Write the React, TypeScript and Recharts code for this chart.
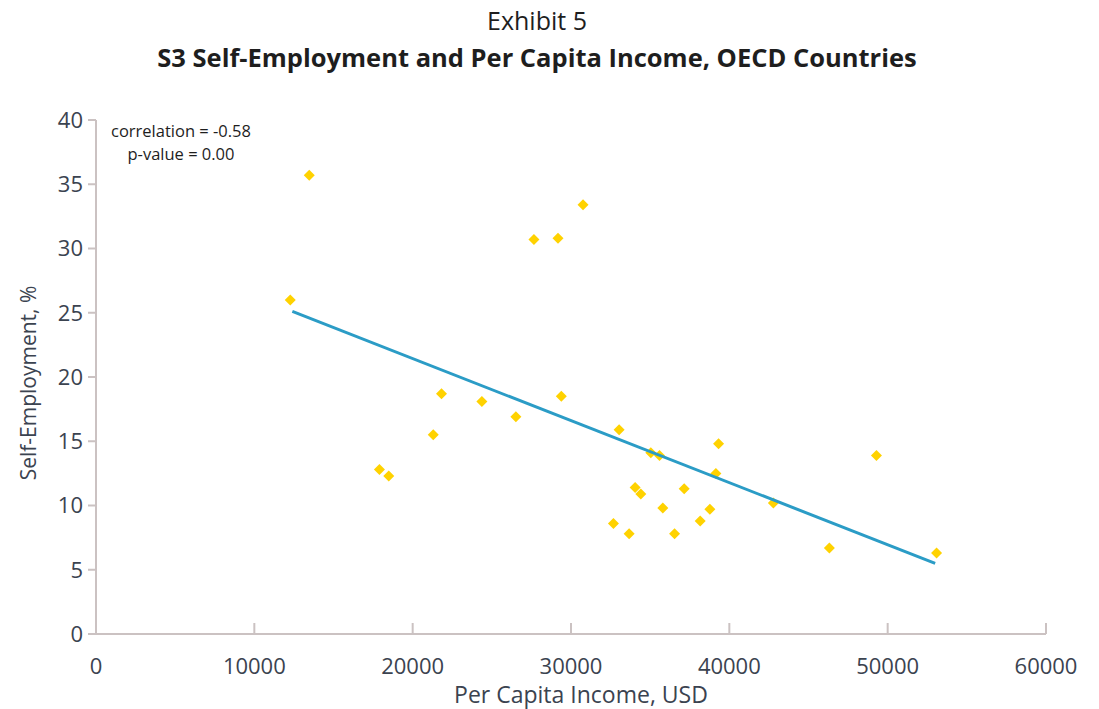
import React from "react";
import { ScatterChart, Scatter, XAxis, YAxis } from "recharts";

// per capita income (USD) and self-employment share (%) for each country
const incomeUsd = [
  12270, 13470, 17900, 18490, 21300, 21820, 24370, 26520, 27660, 29180,
  29390, 30760, 32680, 33040, 33670, 34050, 34410, 35040, 35590, 35800,
  36540, 37150, 38160, 38770, 39150, 39320, 42780, 46320, 49290, 53090,
];
const selfEmploymentPct = [
  26.0, 35.7, 12.8, 12.3, 15.5, 18.7, 18.1, 16.9, 30.7, 30.8,
  18.5, 33.4, 8.6, 15.9, 7.8, 11.4, 10.9, 14.1, 13.9, 9.8,
  7.8, 11.3, 8.8, 9.7, 12.5, 14.8, 10.2, 6.7, 13.9, 6.3,
];

// fitted trend line end points
const trendIncome = [12400, 53000];
const trendPct = [25.1, 5.5];

const xTicks = [0, 10000, 20000, 30000, 40000, 50000, 60000];
const yTicks = [0, 5, 10, 15, 20, 25, 30, 35, 40];

const points = incomeUsd.map((x, i) => ({ x, y: selfEmploymentPct[i] }));
const trend = trendIncome.map((x, i) => ({ x, y: trendPct[i] }));

const AXIS = "#cbc2c2";
const TEXT = "#3b4350";
const FONT = "'Open Sans', sans-serif";

const Diamond = (props: any) => {
  const { cx, cy } = props;
  const r = 5.5;
  return (
    <polygon
      points={`${cx},${cy - r} ${cx + r},${cy} ${cx},${cy + r} ${cx - r},${cy}`}
      fill="#ffd200"
    />
  );
};

export default function App() {
  return (
    <div
      style={{
        position: "relative",
        width: 1099,
        height: 709,
        fontFamily: FONT,
        color: TEXT,
        background: "#fff",
      }}
    >
      <style>{"body{margin:0}"}</style>
      <div
        style={{
          position: "absolute",
          top: 3,
          left: 0,
          width: 1074,
          textAlign: "center",
          fontSize: 25,
          lineHeight: "34px",
          color: "#1e1e1e",
        }}
      >
        Exhibit 5
      </div>
      <div
        style={{
          position: "absolute",
          top: 40,
          left: 0,
          width: 1074,
          textAlign: "center",
          fontSize: 25.5,
          fontWeight: 700,
          lineHeight: "34px",
          color: "#1e1e1e",
        }}
      >
        S3 Self-Employment and Per Capita Income, OECD Countries
      </div>

      <ScatterChart
        width={1099}
        height={709}
        margin={{ top: 120, right: 53, left: 0, bottom: 0 }}
      >
        <XAxis
          type="number"
          dataKey="x"
          domain={[0, 60000]}
          ticks={xTicks}
          height={75}
          axisLine={{ stroke: AXIS, strokeWidth: 2 }}
          tickLine={{ stroke: AXIS, strokeWidth: 2 }}
          tickSize={-11}
          tickMargin={35}
          tick={{ fill: TEXT, fontSize: 22, fontFamily: FONT }}
        />
        <YAxis
          type="number"
          dataKey="y"
          domain={[0, 40]}
          ticks={yTicks}
          width={96}
          axisLine={{ stroke: AXIS, strokeWidth: 2 }}
          tickLine={{ stroke: AXIS, strokeWidth: 2 }}
          tickSize={8}
          tickMargin={5}
          tick={{ fill: TEXT, fontSize: 22, fontFamily: FONT }}
        />
        <Scatter data={points} shape={Diamond} isAnimationActive={false} />
        <Scatter
          data={trend}
          line={{ stroke: "#2b9cc6", strokeWidth: 3 }}
          shape={() => <g />}
          isAnimationActive={false}
        />
      </ScatterChart>

      <div
        style={{
          position: "absolute",
          left: 91,
          top: 119,
          width: 180,
          textAlign: "center",
          fontSize: 16.5,
          lineHeight: "23px",
          color: "#1e1e1e",
        }}
      >
        correlation = -0.58
        <br />
        p-value = 0.00
      </div>

      <div
        style={{
          position: "absolute",
          left: 581,
          top: 694,
          transform: "translate(-50%, -50%)",
          fontSize: 23,
          whiteSpace: "nowrap",
        }}
      >
        Per Capita Income, USD
      </div>
      <div
        style={{
          position: "absolute",
          left: 28,
          top: 383,
          transform: "translate(-50%, -50%) rotate(-90deg)",
          fontSize: 21,
          whiteSpace: "nowrap",
        }}
      >
        Self-Employment, %
      </div>
    </div>
  );
}
